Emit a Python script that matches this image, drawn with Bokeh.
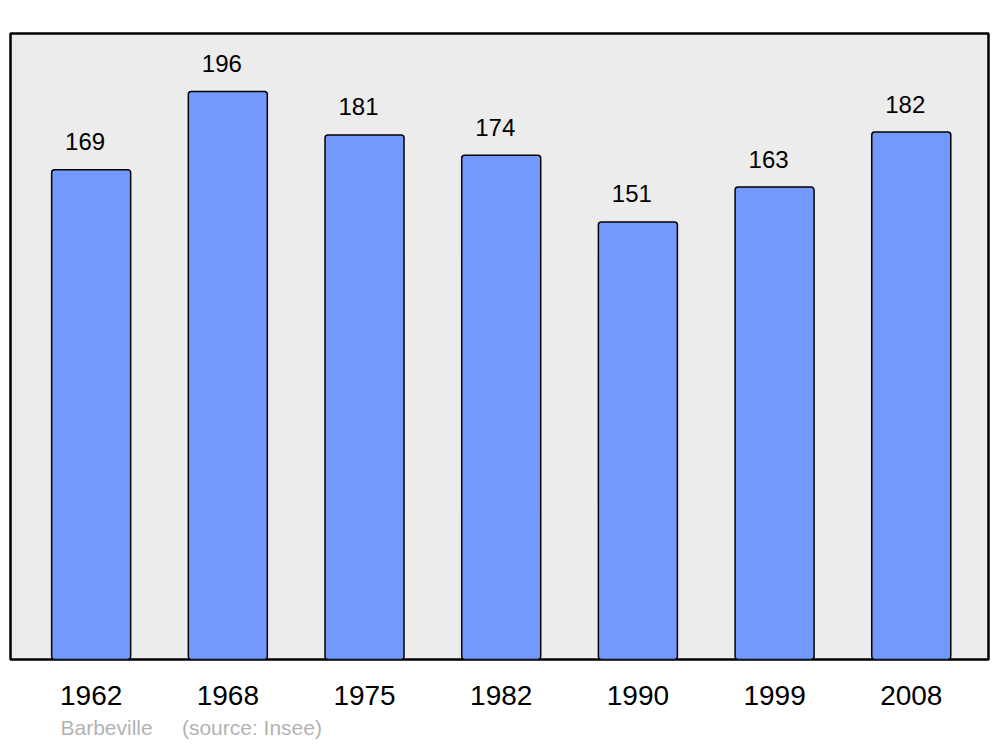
from bokeh.plotting import figure
from bokeh.models import ColumnDataSource, Title, FixedTicker
from bokeh.core.properties import value
from bokeh.embed import file_html
from bokeh.resources import INLINE

years = ["1962", "1968", "1975", "1982", "1990", "1999", "2008"]
population = [169, 196, 181, 174, 151, 163, 182]
idx = list(range(len(years)))
source_note = "Barbeville\u00a0\u00a0\u00a0\u00a0 (source: Insee)"

src = ColumnDataSource(dict(x=idx, top=population, lab=[str(v) for v in population]))

p = figure(width=991, height=745, x_range=(-0.59, 6.565), y_range=(0, 216),
           output_backend="svg", toolbar_location=None,
           min_border_left=10, min_border_right=3, min_border_top=33, min_border_bottom=86)
p.background_fill_color = "#ececec"
p.border_fill_color = "white"
p.outline_line_color = "black"
p.outline_line_width = 2.5
p.grid.visible = False
p.yaxis.visible = False

p.vbar(x="x", top="top", bottom=0, width=0.578, source=src, fill_color="#7399ff",
       line_color="black", line_width=1.5, border_radius=3)

p.text(x="x", y="top", text="lab", source=src, x_offset=-6, y_offset=-28,
       text_align="center", text_baseline="middle", text_font=value("Liberation Sans"),
       text_font_size="24px", text_color="black")

ax = p.xaxis[0]
ax.ticker = FixedTicker(ticks=idx)
ax.major_label_overrides = {i: y for i, y in zip(idx, years)}
ax.axis_line_color = None
ax.major_tick_line_color = None
ax.minor_tick_line_color = None
ax.major_tick_out = 0
ax.major_label_standoff = 26
ax.major_label_text_font = "Liberation Sans"
ax.major_label_text_font_size = "28px"
ax.major_label_text_color = "black"

note = Title(text=source_note, align="left", offset=50, standoff=13,
             text_font="Liberation Sans", text_font_size="21px",
             text_font_style="normal", text_color="#b3b3b3")
p.add_layout(note, "below")

open("out.html", "w").write(file_html(p, INLINE))
